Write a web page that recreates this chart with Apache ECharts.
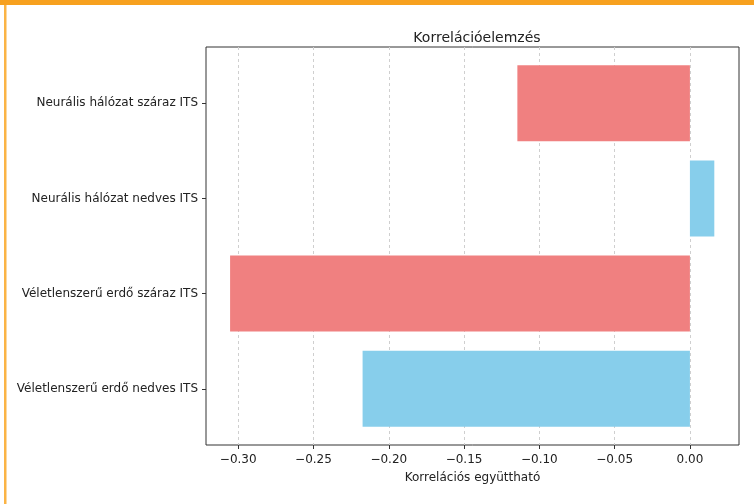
<!DOCTYPE html>
<html><head><meta charset="utf-8">
<script src="https://cdn.jsdelivr.net/npm/echarts@6/dist/echarts.min.js"></script>
<style>
html,body{margin:0;padding:0;background:#fff;}
#c{width:754px;height:504px;}
</style></head>
<body><div id="c"></div>
<script>
const categories = ['Véletlenszerű erdő nedves ITS', 'Véletlenszerű erdő száraz ITS', 'Neurális hálózat nedves ITS', 'Neurális hálózat száraz ITS'];
const values = [-0.2174, -0.3054, 0.0162, -0.1146];
const barColors = ['#87CEEB', '#F08080', '#87CEEB', '#F08080'];
const tickValues = [-0.30, -0.25, -0.20, -0.15, -0.10, -0.05, 0.00];
const xMin = -0.3214, xMax = 0.0326;
const title = 'Korrelációelemzés';
const xName = 'Korrelációs együttható';

const font = 'DejaVu Sans';
const chart = echarts.init(document.getElementById('c'), null, {renderer: 'canvas'});
const fmt = v => (v < 0 ? '\u2212' : '') + Math.abs(v).toFixed(2);

chart.setOption({
  animation: false,
  backgroundColor: '#fff',
  title: {text: title, left: 472, top: 26, textAlign: 'center',
    textStyle: {fontFamily: font, fontSize: 14, fontWeight: 'normal', color: '#222'}},
  graphic: [
    {type: 'rect', shape: {x: 0, y: 0, width: 754, height: 5}, style: {fill: '#F7A11F'}},
    {type: 'rect', shape: {x: 4, y: 5, width: 2.5, height: 499}, style: {fill: '#FBB445'}}
  ],
  grid: [
    {left: 206, right: 15, top: 47, bottom: 59, show: true, borderColor: '#333', borderWidth: 1},
    {left: 206, right: 15, top: 55.6, bottom: 67.6}
  ],
  xAxis: [
    {gridIndex: 0, type: 'value', min: xMin, max: xMax,
      name: xName, nameLocation: 'middle', nameGap: 27,
      nameTextStyle: {fontFamily: font, fontSize: 12, color: '#222'},
      axisLine: {show: false},
      axisTick: {show: true, length: 4, lineStyle: {color: '#333'}, customValues: tickValues},
      axisLabel: {fontFamily: font, fontSize: 12, color: '#222', margin: 9, customValues: tickValues, formatter: fmt},
      splitLine: {show: true, lineStyle: {color: '#cfcfcf', type: [3, 3], width: 1}}},
    {gridIndex: 1, type: 'value', min: xMin, max: xMax, show: false,
      splitLine: {show: false}}
  ],
  yAxis: [
    {gridIndex: 0, type: 'value', show: false, splitLine: {show: false}},
    {gridIndex: 1, type: 'category', data: categories, position: 'left',
      axisLine: {show: false, onZero: false},
      axisTick: {show: true, alignWithLabel: true, length: 4, lineStyle: {color: '#333'}},
      axisLabel: {fontFamily: font, fontSize: 12, color: '#222', margin: 8, padding: [3, 0, 0, 0]},
      splitLine: {show: false}}
  ],
  series: [{
    type: 'bar', xAxisIndex: 1, yAxisIndex: 1, barWidth: 76,
    data: values.map((v, i) => ({value: v, itemStyle: {color: barColors[i]}}))
  }]
});
</script></body></html>
